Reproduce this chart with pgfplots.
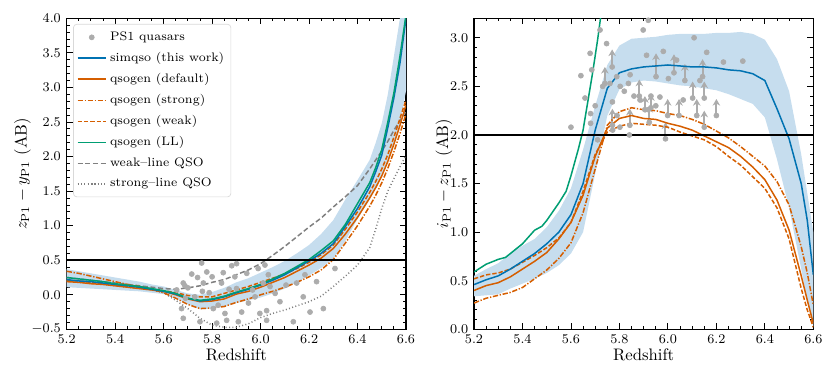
\documentclass[border=0pt]{standalone}
\usepackage{pgfplots}
\pgfplotsset{compat=1.18}
\usepackage{pgfplotstable}
\usepgfplotslibrary{fillbetween}
\usetikzlibrary{arrows.meta}

\definecolor{cblue}{HTML}{0072B2}
\definecolor{corange}{HTML}{D55E00}
\definecolor{cgreen}{HTML}{009E73}
\definecolor{band}{RGB}{198,221,238}
\definecolor{dotgrey}{RGB}{172,172,172}
\definecolor{lgrey}{RGB}{128,128,128}

% z - y colours
\pgfplotstableread{
z sim lo hi def str weak ll wl sl
5.20 0.22 0.11 0.37 0.19 0.34 0.21 0.25 0.25 0.20
5.25 0.20 0.10 0.34 0.18 0.31 0.20 0.23 0.23 0.18
5.30 0.19 0.09 0.31 0.16 0.27 0.18 0.21 0.21 0.17
5.35 0.17 0.08 0.28 0.15 0.23 0.16 0.19 0.19 0.15
5.40 0.15 0.07 0.25 0.13 0.19 0.14 0.16 0.17 0.13
5.45 0.13 0.06 0.22 0.11 0.15 0.12 0.14 0.15 0.11
5.50 0.11 0.05 0.19 0.09 0.12 0.10 0.12 0.13 0.09
5.55 0.08 0.03 0.15 0.07 0.08 0.08 0.09 0.11 0.07
5.60 0.05 0.01 0.12 0.05 0.03 0.06 0.06 0.09 0.03
5.65 0.01 -0.05 0.07 0.00 -0.05 0.03 0.02 0.08 -0.08
5.70 -0.05 -0.14 0.02 -0.06 -0.14 -0.01 -0.05 0.10 -0.20
5.75 -0.09 -0.21 0.00 -0.10 -0.20 -0.03 -0.08 0.13 -0.34
5.80 -0.07 -0.20 0.04 -0.09 -0.19 -0.03 -0.06 0.18 -0.44
5.85 -0.03 -0.17 0.10 -0.06 -0.17 0.02 -0.02 0.22 -0.47
5.90 0.03 -0.12 0.18 0.01 -0.11 0.07 0.04 0.29 -0.47
5.95 0.08 -0.08 0.24 0.05 -0.06 0.12 0.09 0.36 -0.42
6.00 0.14 -0.04 0.32 0.11 0.00 0.18 0.15 0.45 -0.33
6.05 0.21 0.02 0.40 0.18 0.05 0.24 0.23 0.57 -0.27
6.10 0.29 0.09 0.49 0.25 0.11 0.30 0.31 0.70 -0.22
6.15 0.39 0.18 0.60 0.34 0.18 0.38 0.41 0.84 -0.16
6.20 0.49 0.28 0.72 0.43 0.26 0.47 0.51 0.98 -0.10
6.25 0.60 0.39 0.88 0.53 0.36 0.58 0.64 1.11 -0.02
6.30 0.74 0.52 1.08 0.67 0.51 0.72 0.78 1.27 0.12
6.35 0.99 0.78 1.38 0.88 0.75 0.95 1.02 1.42 0.27
6.40 1.25 1.10 1.66 1.12 1.00 1.20 1.32 1.58 0.43
6.45 1.56 1.38 1.95 1.40 1.28 1.48 1.62 1.82 0.68
6.475 1.78 1.55 2.20 1.55 1.44 1.64 1.84 1.95 0.95
6.50 2.02 1.75 2.48 1.72 1.62 1.82 2.10 2.08 1.25
6.525 2.42 1.95 2.90 1.93 1.83 2.03 2.50 2.22 1.50
6.55 2.85 2.20 3.45 2.18 2.07 2.28 2.92 2.38 1.68
6.575 3.35 2.48 4.00 2.45 2.33 2.55 3.45 2.52 1.85
6.60 4.00 2.95 4.60 2.75 2.62 2.82 4.05 2.66 2.02
}\zytab

\pgfplotstableread{
z v
5.757 0.46
5.716 0.30
5.681 0.17
5.688 0.13
5.654 0.07
5.674 -0.20
5.681 -0.34
5.729 -0.03
5.764 0.17
5.778 0.33
5.788 0.03
5.805 -0.20
5.825 -0.15
5.839 0.17
5.846 0.32
5.853 -0.27
5.881 0.42
5.894 0.26
5.901 0.09
5.908 -0.39
5.922 -0.25
5.943 0.31
5.967 0.07
5.977 -0.03
5.990 0.38
6.011 0.17
6.018 0.43
6.032 0.29
6.039 0.12
6.025 -0.23
5.997 -0.27
6.080 -0.10
6.105 0.14
6.135 -0.39
6.149 0.17
6.176 -0.03
6.183 0.29
6.204 -0.25
6.231 0.19
6.259 -0.20
6.307 0.38
5.901 0.45
5.819 -0.41
5.750 -0.39
5.860 -0.37
6.025 -0.37
5.700 0.10
5.760 0.05
5.800 0.26
5.870 0.08
5.950 -0.12
6.060 0.02
5.690 -0.05
5.740 0.25
}\zyqso

% i - z colours
\pgfplotstableread{
z sim lo hi def str weak
5.20 0.46 0.34 0.55 0.40 0.27 0.52
5.25 0.51 0.35 0.62 0.45 0.32 0.56
5.30 0.55 0.36 0.68 0.48 0.35 0.58
5.35 0.62 0.42 0.78 0.54 0.38 0.62
5.40 0.70 0.47 0.86 0.62 0.43 0.69
5.45 0.78 0.52 0.93 0.70 0.52 0.76
5.50 0.88 0.58 1.05 0.79 0.61 0.84
5.55 1.00 0.66 1.22 0.93 0.73 0.94
5.60 1.18 0.78 1.45 1.10 0.89 1.10
5.65 1.50 1.00 1.85 1.38 1.20 1.42
5.70 2.05 1.60 2.30 1.78 1.65 1.80
5.75 2.48 2.20 2.72 2.07 2.10 2.03
5.80 2.64 2.47 2.92 2.17 2.24 2.09
5.85 2.68 2.54 2.99 2.20 2.28 2.12
5.90 2.70 2.56 3.00 2.17 2.26 2.11
5.95 2.71 2.55 3.01 2.16 2.25 2.10
6.00 2.72 2.53 3.03 2.12 2.22 2.08
6.05 2.71 2.51 3.04 2.09 2.20 2.03
6.10 2.70 2.50 3.04 2.05 2.16 1.99
6.15 2.70 2.48 3.04 1.99 2.11 1.95
6.20 2.69 2.46 3.05 1.93 2.04 1.88
6.25 2.67 2.42 3.05 1.87 1.97 1.78
6.30 2.66 2.37 3.06 1.78 1.88 1.69
6.35 2.63 2.32 3.04 1.67 1.78 1.57
6.40 2.56 2.18 2.98 1.54 1.68 1.45
6.45 2.27 1.75 2.78 1.33 1.52 1.25
6.50 1.96 1.25 2.45 1.02 1.28 0.93
6.55 1.50 0.62 1.80 0.55 0.85 0.42
6.575 1.12 0.30 1.40 0.30 0.58 0.20
6.60 0.56 0.03 1.00 0.06 0.25 0.02
}\iztab

\pgfplotstableread{
z v
5.20 0.59
5.25 0.67
5.30 0.72
5.33 0.74
5.36 0.80
5.40 0.88
5.45 1.02
5.48 1.06
5.50 1.12
5.55 1.30
5.58 1.42
5.60 1.58
5.63 1.85
5.65 2.05
5.67 2.35
5.69 2.65
5.71 2.98
5.73 3.35
}\izll

\pgfplotstableread{
z v
5.600 2.08
5.641 2.61
5.658 2.38
5.679 2.84
5.686 2.67
5.681 2.22
5.681 2.12
5.720 3.08
5.747 2.94
5.731 2.50
5.761 2.53
5.771 2.34
5.789 2.60
5.803 2.50
5.837 2.53
5.844 2.62
5.802 2.08
5.841 2.00
5.898 3.08
5.919 3.18
5.885 2.36
5.912 2.82
5.967 2.39
5.981 2.86
6.002 2.58
6.036 2.77
6.063 2.36
6.132 2.56
6.108 3.00
6.160 2.85
6.229 2.75
6.309 2.76
5.919 2.26
5.772 2.05
5.820 2.45
5.860 2.40
5.700 2.30
5.710 1.95
5.790 2.20
5.950 2.30
5.930 2.40
}\izqso

% lower limits: base and arrow length
\pgfplotstableread{
z v dv
5.770 2.70 0.18
5.740 2.53 0.17
5.951 2.60 0.24
6.025 2.64 0.19
6.070 2.56 0.17
6.143 2.60 0.18
6.102 2.38 0.17
6.150 2.38 0.17
5.882 2.40 0.17
5.999 2.20 0.17
6.046 2.20 0.17
6.119 2.20 0.17
6.200 2.20 0.17
6.150 2.08 0.17
5.923 2.13 0.17
5.843 2.10 0.17
5.771 2.10 0.17
5.990 1.96 0.17
5.905 2.26 0.14
5.930 2.28 0.14
}\izlim

\pgfplotsset{
  panel/.style={
    scale only axis, width=203.6pt, height=186.6pt,
    xmin=5.2, xmax=6.6,
    xtick={5.2,5.4,5.6,5.8,6.0,6.2,6.4,6.6},
    minor x tick num=3,
    tick align=inside,
    major tick length=3.6pt, minor tick length=1.8pt,
    axis line style={line width=0.8pt},
    every tick/.style={black, line width=0.5pt},
    tick label style={font=\fontsize{8.3}{10}\selectfont},
    label style={font=\fontsize{10}{12}\selectfont},
    xticklabel style={/pgf/number format/.cd, fixed, fixed zerofill, precision=1},
    yticklabel style={/pgf/number format/.cd, fixed, fixed zerofill, precision=1},
    xlabel={Redshift},
    xlabel style={at={(axis description cs:0.5,-0.083)}, anchor=center},
  },
  curve/.style={line width=0.9pt, forget plot},
  qso/.style={only marks, mark=*, mark size=1.5pt, dotgrey, forget plot},
}

\begin{document}
\begin{tikzpicture}

% left panel
\begin{axis}[panel, at={(0pt,0pt)}, anchor=south west,
    ymin=-0.5, ymax=4.0,
    ytick={-0.5,0,0.5,1.0,1.5,2.0,2.5,3.0,3.5,4.0},
    minor y tick num=4,
    ylabel={$z_{\mathrm{P1}} - y_{\mathrm{P1}}$ (AB)},
    ylabel style={at={(axis description cs:-0.13,0.5)}, anchor=center},
    legend style={at={(axis description cs:0.019,0.982)}, anchor=north west,
        draw=black!15, rounded corners=2pt,
        font=\fontsize{7.4}{9}\selectfont, row sep=1.6pt,
        inner xsep=2pt, inner ysep=2.5pt},
    legend cell align=left,
  ]
  \addplot[name path=zyhi, draw=none, forget plot] table[x=z, y=hi] {\zytab};
  \addplot[name path=zylo, draw=none, forget plot] table[x=z, y=lo] {\zytab};
  \addplot[fill=band, draw=none, forget plot] fill between[of=zyhi and zylo];

  \addplot[qso] table[x=z, y=v] {\zyqso};

  \addplot[curve, lgrey, dash pattern=on 3pt off 1.6pt] table[x=z, y=wl] {\zytab};
  \addplot[curve, lgrey, dash pattern=on 0.6pt off 1.4pt] table[x=z, y=sl] {\zytab};
  \addplot[curve, corange] table[x=z, y=def] {\zytab};
  \addplot[curve, corange, dash pattern=on 3.2pt off 1pt on 0.8pt off 1pt] table[x=z, y=str] {\zytab};
  \addplot[curve, corange, dash pattern=on 2.6pt off 1.2pt] table[x=z, y=weak] {\zytab};
  \addplot[curve, cblue] table[x=z, y=sim] {\zytab};
  \addplot[curve, cgreen] table[x=z, y=ll] {\zytab};

  \addplot[black, line width=1.2pt, forget plot] coordinates {(5.2,0.5) (6.6,0.5)};

  \addlegendimage{only marks, mark=*, mark size=1.5pt, dotgrey}
  \addlegendentry{PS1 quasars}
  \addlegendimage{line width=0.9pt, cblue}
  \addlegendentry{simqso (this work)}
  \addlegendimage{line width=0.9pt, corange}
  \addlegendentry{qsogen (default)}
  \addlegendimage{line width=0.9pt, corange, dash pattern=on 3.2pt off 1pt on 0.8pt off 1pt}
  \addlegendentry{qsogen (strong)}
  \addlegendimage{line width=0.9pt, corange, dash pattern=on 2.6pt off 1.2pt}
  \addlegendentry{qsogen (weak)}
  \addlegendimage{line width=0.9pt, cgreen}
  \addlegendentry{qsogen (LL)}
  \addlegendimage{line width=0.9pt, lgrey, dash pattern=on 3pt off 1.6pt}
  \addlegendentry{weak--line QSO}
  \addlegendimage{line width=0.9pt, lgrey, dash pattern=on 0.6pt off 1.4pt}
  \addlegendentry{strong--line QSO}
\end{axis}

% right panel
\begin{axis}[panel, at={(244.4pt,0pt)}, anchor=south west,
    ymin=0, ymax=3.2,
    ytick={0,0.5,1.0,1.5,2.0,2.5,3.0},
    minor y tick num=4,
    ylabel={$i_{\mathrm{P1}} - z_{\mathrm{P1}}$ (AB)},
    ylabel style={at={(axis description cs:-0.0885,0.5)}, anchor=center},
  ]
  \addplot[name path=izhi, draw=none, forget plot] table[x=z, y=hi] {\iztab};
  \addplot[name path=izlo, draw=none, forget plot] table[x=z, y=lo] {\iztab};
  \addplot[fill=band, draw=none, forget plot] fill between[of=izhi and izlo];

  \addplot[qso] table[x=z, y=v] {\izqso};
  \addplot[qso] table[x=z, y=v] {\izlim};
  \addplot[dotgrey, line width=1.2pt, no markers, forget plot,
    -{Stealth[length=4pt, width=4.5pt]},
    quiver={u=0, v=\thisrow{dv}}] table[x=z, y=v] {\izlim};

  \addplot[curve, corange] table[x=z, y=def] {\iztab};
  \addplot[curve, corange, dash pattern=on 3.2pt off 1pt on 0.8pt off 1pt] table[x=z, y=str] {\iztab};
  \addplot[curve, corange, dash pattern=on 2.6pt off 1.2pt] table[x=z, y=weak] {\iztab};
  \addplot[curve, cblue] table[x=z, y=sim] {\iztab};
  \addplot[curve, cgreen] table[x=z, y=v] {\izll};

  \addplot[black, line width=1.2pt, forget plot] coordinates {(5.2,2.0) (6.6,2.0)};
\end{axis}

\pgfresetboundingbox
\path[use as bounding box] (-40.0pt,-22.0pt) rectangle (458.0pt,197.6pt);
\end{tikzpicture}
\end{document}
